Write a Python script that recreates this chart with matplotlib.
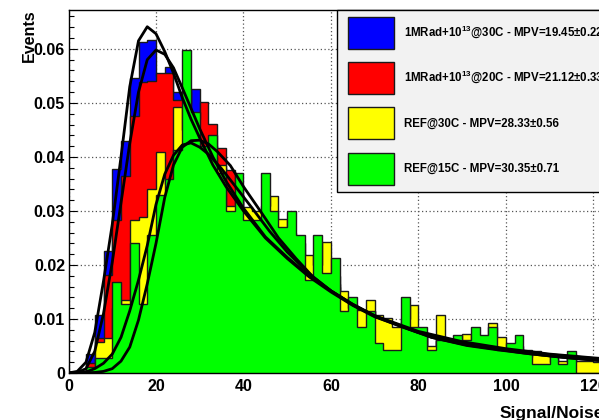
import numpy as np
import matplotlib
matplotlib.use("Agg")
import matplotlib.pyplot as plt
from matplotlib.patches import Patch, Rectangle
from matplotlib.legend_handler import HandlerPatch
from matplotlib.ticker import MultipleLocator

plt.rcParams['font.family'] = ['Liberation Sans', 'DejaVu Sans']
plt.rcParams['font.weight'] = 'bold'
plt.rcParams['mathtext.fontset'] = 'custom'
plt.rcParams['mathtext.rm'] = 'Liberation Sans:bold'
plt.rcParams['mathtext.bf'] = 'Liberation Sans:bold'
plt.rcParams['mathtext.default'] = 'rm'

# histogram contents, bins of width 2 starting at 0
bin_width = 2
blue_vals = [0, 0, 0.0036, 0.0108, 0.0225, 0.0378, 0.0430, 0.0546, 0.0612, 0.0617,
             0.0550, 0.0566, 0.0520, 0.0500, 0.0525, 0.0440, 0.0420, 0.0380, 0.0350, 0.0330,
             0.0280, 0.0280, 0.0290, 0.0260, 0.0240, 0.0230, 0.0210, 0.0170, 0.0180, 0.0170,
             0.0160, 0.0110, 0.0120, 0.0085, 0.0110, 0.0080, 0.0080, 0.0070, 0.0090, 0.0080,
             0.0070, 0.0040, 0.0060, 0.0050, 0.0055, 0.0055, 0.0060, 0.0055, 0.0060, 0.0040,
             0.0040, 0.0045, 0.0030, 0.0030, 0.0025, 0.0025, 0.0015, 0.0030, 0.0015, 0.0015,
             0.0015, 0.0010, 0.0010]
red_vals = [0, 0, 0.0018, 0.0065, 0.0182, 0.0283, 0.0364, 0.0475, 0.0539, 0.0540,
            0.0555, 0.0555, 0.0505, 0.0520, 0.0470, 0.0501, 0.0461, 0.0416, 0.0376, 0.0340,
            0.0290, 0.0280, 0.0300, 0.0270, 0.0250, 0.0240, 0.0220, 0.0180, 0.0190, 0.0175,
            0.0165, 0.0120, 0.0125, 0.0090, 0.0115, 0.0085, 0.0085, 0.0075, 0.0095, 0.0085,
            0.0075, 0.0045, 0.0065, 0.0055, 0.0060, 0.0060, 0.0065, 0.0060, 0.0065, 0.0045,
            0.0045, 0.0050, 0.0035, 0.0035, 0.0030, 0.0028, 0.0018, 0.0035, 0.0018, 0.0018,
            0.0016, 0.0012, 0.0012]
yellow_vals = [0, 0, 0.0010, 0.0058, 0.0065, 0.0120, 0.0135, 0.0283, 0.0288, 0.0340,
               0.0410, 0.0350, 0.0493, 0.0450, 0.0450, 0.0400, 0.0400, 0.0385, 0.0310, 0.0330,
               0.0307, 0.0300, 0.0310, 0.0327, 0.0286, 0.0260, 0.0240, 0.0218, 0.0200, 0.0243,
               0.0180, 0.0151, 0.0120, 0.0116, 0.0135, 0.0107, 0.0101, 0.0086, 0.0100, 0.0126,
               0.0070, 0.0050, 0.0108, 0.0050, 0.0060, 0.0073, 0.0060, 0.0060, 0.0092, 0.0067,
               0.0040, 0.0040, 0.0030, 0.0041, 0.0033, 0.0020, 0.0022, 0.0020, 0.0022, 0.0022,
               0.0020, 0.0020, 0.0020]
green_vals = [0, 0, 0.0012, 0.0027, 0.0027, 0.0169, 0.0127, 0.0240, 0.0127, 0.0255,
              0.0330, 0.0360, 0.0413, 0.0598, 0.0483, 0.0420, 0.0441, 0.0370, 0.0299, 0.0370,
              0.0283, 0.0283, 0.0370, 0.0299, 0.0270, 0.0299, 0.0256, 0.0172, 0.0256, 0.0185,
              0.0212, 0.0114, 0.0141, 0.0086, 0.0114, 0.0056, 0.0043, 0.0043, 0.0141, 0.0086,
              0.0086, 0.0043, 0.0061, 0.0061, 0.0070, 0.0061, 0.0086, 0.0070, 0.0086, 0.0043,
              0.0056, 0.0070, 0.0043, 0.0016, 0.0016, 0.0031, 0.0016, 0.0041, 0, 0,
              0, 0, 0]

# fit curves
blue_fit_x = [0, 2, 4, 6, 8, 10, 12, 14, 16, 18, 20, 22, 24, 26, 28, 30, 33, 36, 40, 45,
              50, 55, 60, 65, 70, 80, 90, 100, 110, 120, 125]
blue_fit_y = [0, 0.0003, 0.0020, 0.0075, 0.0170, 0.0275, 0.0400, 0.0530, 0.0615, 0.0641,
              0.0628, 0.0595, 0.0555, 0.0510, 0.0470, 0.0435, 0.0385, 0.0345, 0.0300, 0.0250,
              0.0212, 0.0178, 0.0150, 0.0125, 0.0104, 0.0075, 0.0056, 0.0043, 0.0034, 0.0027,
              0.0024]
red_fit_x = [0, 2, 4, 6, 8, 10, 12, 14, 16, 18, 20, 22, 24, 26, 28, 30, 33, 36, 40, 45,
             50, 55, 60, 65, 70, 80, 90, 100, 110, 120, 125]
red_fit_y = [0, 0.0001, 0.0008, 0.0040, 0.0110, 0.0205, 0.0315, 0.0425, 0.0520, 0.0580,
             0.0598, 0.0590, 0.0565, 0.0528, 0.0490, 0.0452, 0.0400, 0.0355, 0.0305, 0.0252,
             0.0214, 0.0180, 0.0152, 0.0127, 0.0106, 0.0077, 0.0058, 0.0045, 0.0035, 0.0028,
             0.0025]
yellow_fit_x = [0, 4, 6, 8, 10, 12, 14, 16, 18, 20, 22, 24, 26, 28, 30, 32, 35, 38, 42, 46,
                50, 55, 60, 65, 70, 76, 83, 91, 98, 105, 113, 120, 125]
yellow_fit_y = [0, 0.0002, 0.0008, 0.0018, 0.0035, 0.0066, 0.0115, 0.0172, 0.0236, 0.0312,
                0.0368, 0.0403, 0.0422, 0.0426, 0.0418, 0.0405, 0.0378, 0.0347, 0.0305, 0.0262,
                0.0224, 0.0184, 0.0152, 0.0126, 0.0105, 0.0086, 0.0066, 0.0051, 0.0043, 0.0036,
                0.0029, 0.0024, 0.0021]
green_fit_x = [0, 6, 8, 10, 12, 14, 16, 18, 20, 22, 24, 26, 28, 30, 32, 34, 37, 40, 44, 48,
               52, 56, 60, 65, 70, 76, 83, 91, 98, 105, 113, 120, 125]
green_fit_y = [0, 0.0001, 0.0003, 0.0008, 0.0022, 0.0048, 0.0098, 0.0165, 0.0240, 0.0325,
               0.0385, 0.0418, 0.0430, 0.0431, 0.0424, 0.0410, 0.0384, 0.0345, 0.0298, 0.0250,
               0.0212, 0.0177, 0.0152, 0.0127, 0.0106, 0.0087, 0.0066, 0.0052, 0.0044, 0.0036,
               0.0029, 0.0024, 0.0021]

labels = ['1MRad+10$^{13}$@30C - MPV=19.45\u00b10.22',
          '1MRad+10$^{13}$@20C - MPV=21.12\u00b10.33',
          'REF@30C - MPV=28.33\u00b10.56',
          'REF@15C - MPV=30.35\u00b10.71']
colors = ['#0000ff', '#ff0000', '#ffff00', '#00ff00']
xtick_vals = [0, 20, 40, 60, 80, 100, 120, 140]
xtick_labels = ['0', '20', '40', '60', '80', '100', '120', '140']
ytick_vals = [0, 0.01, 0.02, 0.03, 0.04, 0.05, 0.06]
ytick_labels = ['0', '0.01', '0.02', '0.03', '0.04', '0.05', '0.06']

W, H = 599, 420
fig = plt.figure(figsize=(W / 100, H / 100), dpi=100)
# the frame runs off the right side of the picture
ax = fig.add_axes([68.5 / W, 47 / H, 612.5 / W, 363 / H])

edges = np.arange(len(green_vals) + 1) * bin_width
for i, vals in enumerate([blue_vals, red_vals, yellow_vals, green_vals]):
    ax.stairs(vals, edges, fill=True, facecolor=colors[i], edgecolor='#1a1a1a',
              linewidth=1.0, zorder=1 + 0.1 * i)

for fx, fy in [(blue_fit_x, blue_fit_y), (red_fit_x, red_fit_y),
               (yellow_fit_x, yellow_fit_y), (green_fit_x, green_fit_y)]:
    ax.plot(fx, fy, color='black', lw=2.0, zorder=3, solid_joinstyle='round')

ax.set_xlim(0, 140)
ax.set_ylim(0, 0.0672)
ax.set_xticks(xtick_vals, xtick_labels)
ax.set_yticks(ytick_vals, ytick_labels)
ax.yaxis.set_minor_locator(MultipleLocator(0.002))
ax.xaxis.set_minor_locator(MultipleLocator(4))
ax.tick_params(axis='both', which='both', direction='in', top=False, right=False,
               labelsize=11.5, width=0.8)
ax.tick_params(axis='y', which='major', length=6, pad=2.5)
ax.tick_params(axis='y', which='minor', length=3.5)
ax.tick_params(axis='x', which='major', length=6, pad=4)
ax.tick_params(axis='x', which='minor', length=3.5)
ax.set_axisbelow(True)
ax.grid(True, which='major', color='#555555', linestyle=(0, (1, 2)), lw=0.9)
for s in ax.spines.values():
    s.set_linewidth(1.0)

fig.text(500 / W, 1 - 418 / H, 'Signal/Noise', fontsize=12.5, fontweight='bold',
         ha='left', va='baseline')
fig.text(29 / W, 1 - 9 / H, 'Events', fontsize=11.5, fontweight='bold',
         rotation=90, ha='center', va='top')


# big ROOT-style legend boxes, slightly indented from the frame
def box_patch(legend, orig_handle, xdescent, ydescent, width, height, fontsize):
    return Rectangle((-xdescent + 3, -ydescent), width - 3, height)


handles = [Patch(facecolor=c, edgecolor='#1a1a1a', linewidth=1.0) for c in colors]
leg = fig.legend(handles, labels, loc='upper left',
                 bbox_to_anchor=(337 / W, 1 - 10 / H), bbox_transform=fig.transFigure,
                 handler_map={Patch: HandlerPatch(patch_func=box_patch)},
                 fontsize=8.3, handlelength=4.35, handleheight=3.886, labelspacing=1.157,
                 handletextpad=0.87, borderpad=0.6, borderaxespad=0,
                 fancybox=False, framealpha=1, edgecolor='black', facecolor='#f2f2f2')
leg.get_frame().set_linewidth(1.0)

fig.savefig('out.png', dpi=100)
